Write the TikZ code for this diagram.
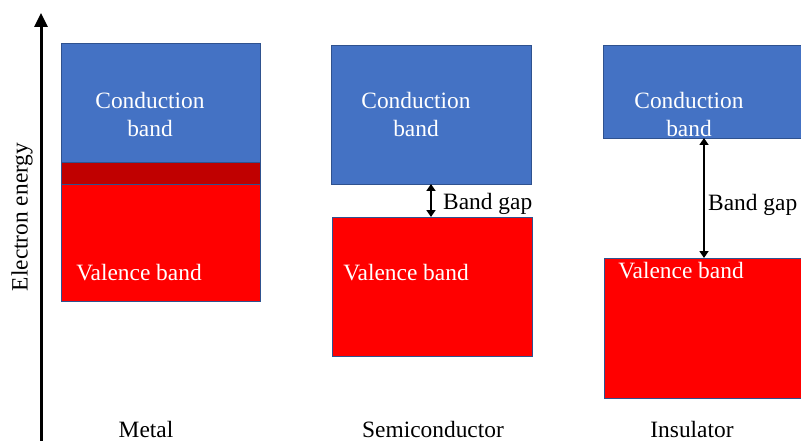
\documentclass[tikz,border=0pt]{standalone}
\usepackage{fontspec}
\setmainfont{Liberation Serif}
\usetikzlibrary{positioning, calc, arrows.meta}

\definecolor{cbblue}{HTML}{4472C4}
\definecolor{vbred}{HTML}{FF0000}
\definecolor{overlapred}{HTML}{C00000}
\definecolor{bandedge}{HTML}{2F528F}

\begin{document}
\begin{tikzpicture}[x=1pt, y=-1pt]
  \newcommand\lblsize{\fontsize{23.4}{28}\selectfont}
  \newcommand\gaplw{2pt}
  \newcommand\gapsep{4pt}

  \tikzset{band/.style={draw=bandedge, line width=0.5pt, inner sep=0, outer sep=0, anchor=north west}}
  \tikzset{condband/.style={band, fill=cbblue}}
  \tikzset{valband/.style={band, fill=vbred}}
  \tikzset{overlapband/.style={band, fill=overlapred}}
  \tikzset{inlbl/.style={text=white, font=\lblsize, align=center, inner sep=0}}
  \tikzset{catlbl/.style={font=\lblsize, anchor=base, inner sep=0}}
  \tikzset{gaparrow/.style={{Triangle[length=7pt, width=9pt]}-{Triangle[length=7pt, width=9pt]}, line width=\gaplw}}

  \useasboundingbox (0, 0) rectangle (801, 441);

  % energy axis
  \coordinate (axis-lo) at (41, 441);
  \coordinate (axis-hi) at (41, 13);
  \draw[line width=3pt, -{Triangle[length=14pt, width=13pt]}] (axis-lo) -- (axis-hi);
  \node[font=\lblsize, rotate=90, inner sep=0] (axis-lbl) at (22, 217) {Electron energy};

  % metal
  \node[condband, minimum width=199pt, minimum height=119pt] (m-cb) at (61, 43) {};
  \node[overlapband, minimum width=199pt, minimum height=22pt] (m-ov) at (61, 162) {};
  \node[valband, minimum width=199pt, minimum height=117pt] (m-vb) at (61, 184) {};
  \node[inlbl] (m-cb-lbl) at (150, 114) {Conduction\\band};
  \node[inlbl, anchor=base] (m-vb-lbl) at (139, 280) {Valence band};

  % semiconductor
  \node[condband, minimum width=200pt, minimum height=139pt] (sc-cb) at (331, 45) {};
  \node[valband, minimum width=200pt, minimum height=139pt] (sc-vb) at (332, 217) {};
  \node[inlbl] (sc-cb-lbl) at (416, 114) {Conduction\\band};
  \node[inlbl, anchor=base] (sc-vb-lbl) at (406, 280) {Valence band};
  \draw[gaparrow] (sc-cb.south) -- (sc-vb.north -| sc-cb.south) coordinate[midway] (sc-gap);
  \node[font=\lblsize, anchor=west, inner sep=0, right=\gapsep+8pt of sc-gap, yshift=-3pt] (sc-gap-lbl) {Band gap};

  % insulator
  \node[condband, minimum width=202pt, minimum height=93pt] (in-cb) at (603, 45) {};
  \node[valband, minimum width=202pt, minimum height=140pt] (in-vb) at (604, 258) {};
  \node[inlbl] (in-cb-lbl) at (689, 114) {Conduction\\band};
  \node[inlbl, anchor=base] (in-vb-lbl) at (681, 278) {Valence band};
  \draw[gaparrow] (in-cb.south) -- (in-vb.north -| in-cb.south) coordinate[midway] (in-gap);
  \node[font=\lblsize, anchor=west, inner sep=0, right=\gapsep of in-gap, yshift=-7pt] (in-gap-lbl) {Band gap};

  % material names
  \foreach \mat/\x in {Metal/146, Semiconductor/433, Insulator/692}{
    \node[catlbl] (lbl-\mat) at (\x, 437) {\mat};
  }
\end{tikzpicture}
\end{document}
